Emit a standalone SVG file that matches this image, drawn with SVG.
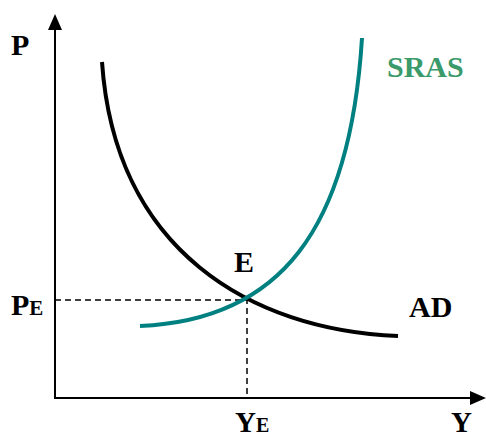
<svg xmlns="http://www.w3.org/2000/svg" width="486" height="439" viewBox="0 0 486 439">
<style>
.t{font-family:"Liberation Serif","Times New Roman",serif;font-weight:bold;fill:#000}
.ax{stroke:#000;stroke-width:2;fill:none}
.dash{stroke:#000;stroke-width:1.5;stroke-dasharray:6,4;fill:none}
</style>
<rect width="486" height="439" fill="#fff"/>
<g id="axes">
<line class="ax" x1="55" y1="28" x2="55" y2="399"/>
<polygon points="55,14 48,30 62,30" fill="#000"/>
<line class="ax" x1="55" y1="398" x2="474" y2="398"/>
<polygon points="486,398 470,391 470,405" fill="#000"/>
</g>
<g id="connectors">
<polyline class="dash" points="55,300 247,300 247,398"/>
</g>
<g id="AD">
<path d="M102,62 C115,250 250,330 398,336" stroke="#000" stroke-width="4" fill="none"/>
<text class="t" x="409" y="317" font-size="30">AD</text>
</g>
<g id="SRAS">
<path d="M140,326 C280,320 350,230 362,38" stroke="#008080" stroke-width="4" fill="none"/>
<text class="t" x="387" y="77" font-size="30" style="fill:#3a9a6a">SRAS</text>
</g>
<g id="labels">
<text class="t" x="11" y="55" font-size="30">P</text>
<text class="t" x="11" y="315" font-size="30">P<tspan font-size="21">E</tspan></text>
<text class="t" x="234" y="272" font-size="30">E</text>
<text class="t" x="235" y="432" font-size="29">Y<tspan font-size="20">E</tspan></text>
<text class="t" x="451" y="432" font-size="29">Y</text>
</g>
</svg>
